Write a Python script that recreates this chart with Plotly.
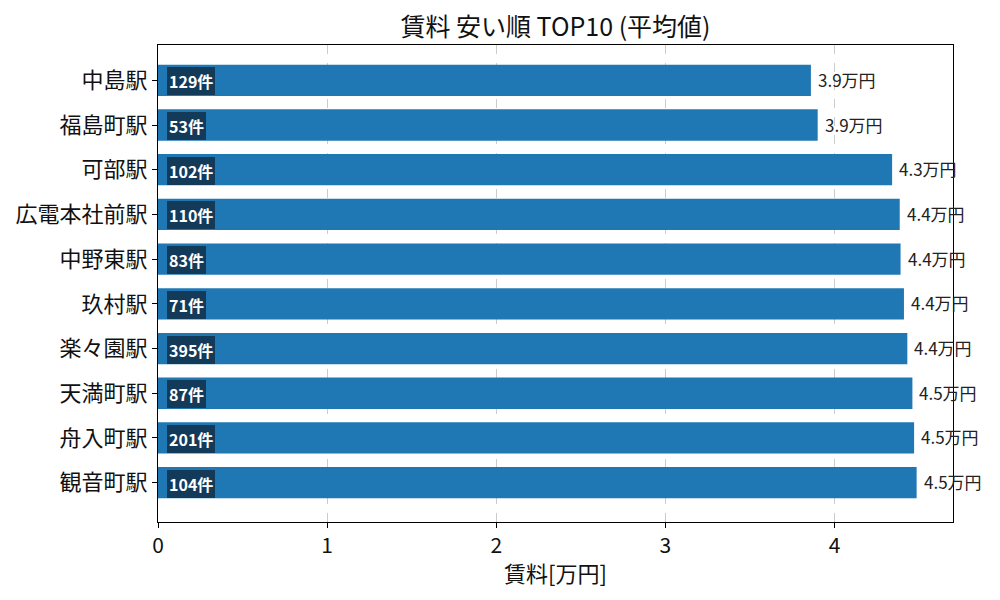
import plotly.graph_objects as go

stations = ["中島駅", "福島町駅", "可部駅", "広電本社前駅", "中野東駅", "玖村駅", "楽々園駅", "天満町駅", "舟入町駅", "観音町駅"]
rent = [3.86, 3.90, 4.34, 4.385, 4.39, 4.41, 4.43, 4.46, 4.47, 4.485]
counts = [129, 53, 102, 110, 83, 71, 395, 87, 201, 104]
value_labels = ["3.9万円", "3.9万円", "4.3万円", "4.4万円", "4.4万円", "4.4万円", "4.4万円", "4.5万円", "4.5万円", "4.5万円"]
x_ticks = [0, 1, 2, 3, 4]

FONT = "Noto Sans CJK JP"

fig = go.Figure()
fig.add_trace(go.Bar(
    y=stations, x=rent, orientation="h",
    marker=dict(color="#1f77b4", line=dict(width=0)),
    width=0.7,
    hoverinfo="skip",
))

for s, c in zip(stations, counts):
    fig.add_annotation(
        x=0, y=s, xref="x", yref="y", xanchor="left", xshift=9, yshift=-1,
        text=f"<b>{c}件</b>", showarrow=False,
        font=dict(family=FONT, size=16, color="white"),
        bgcolor="#143a5a", borderpad=1, bordercolor="#143a5a", borderwidth=1,
    )

for s, v, lab in zip(stations, rent, value_labels):
    fig.add_annotation(
        x=v, y=s, xref="x", yref="y", xanchor="left", xshift=5, yshift=1,
        text=lab, showarrow=False,
        font=dict(family=FONT, size=17, color="#222222"),
    )

fig.update_layout(
    width=1000, height=600,
    margin=dict(l=150, r=55, t=37, b=86),
    plot_bgcolor="white", paper_bgcolor="white",
    showlegend=False,
    title=dict(text="賃料 安い順 TOP10 (平均値)", xref="paper", x=0.5, xanchor="center",
               yref="container", y=0.968, yanchor="middle",
               font=dict(family=FONT, size=25, color="#111111")),
    font=dict(family=FONT),
)
fig.update_xaxes(
    range=[0, 4.7], tickvals=x_ticks, ticktext=[str(t) for t in x_ticks],
    showgrid=True, gridcolor="#cccccc", griddash="dash", gridwidth=1,
    showline=True, linecolor="black", linewidth=1, mirror=True,
    ticks="outside", ticklen=5, tickcolor="black",
    tickfont=dict(family=FONT, size=21, color="#111111"),
    title=dict(text="賃料[万円]", font=dict(family=FONT, size=22, color="#111111"), standoff=8),
    zeroline=False, automargin=False,
)
fig.update_yaxes(
    autorange=False, range=[9.88, -0.79],
    showline=True, linecolor="black", linewidth=1, mirror=True,
    ticks="outside", ticklen=5, tickcolor="black",
    tickfont=dict(family=FONT, size=22, color="#111111"),
    showgrid=False, automargin=False,
)

fig.write_html("out.html")
